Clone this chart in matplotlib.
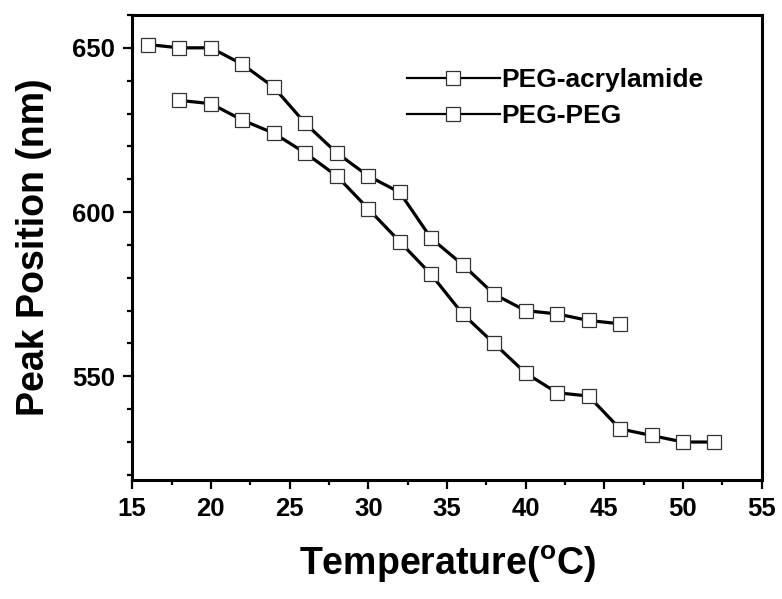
import matplotlib
matplotlib.use("Agg")
import matplotlib.pyplot as plt
from matplotlib.ticker import MultipleLocator

plt.rcParams['font.family'] = ['Liberation Sans', 'DejaVu Sans']
plt.rcParams['font.weight'] = 'bold'
plt.rcParams['mathtext.fontset'] = 'custom'
plt.rcParams['mathtext.rm'] = 'Liberation Sans'
plt.rcParams['mathtext.bf'] = 'Liberation Sans:bold'

# peak position vs temperature
temp_acryl = [16, 18, 20, 22, 24, 26, 28, 30, 32, 34, 36, 38, 40, 42, 44, 46]
peak_acryl = [651, 650, 650, 645, 638, 627, 618, 611, 606, 592, 584, 575, 570, 569, 567, 566]

temp_peg = [18, 20, 22, 24, 26, 28, 30, 32, 34, 36, 38, 40, 42, 44, 46, 48, 50, 52]
peak_peg = [634, 633, 628, 624, 618, 611, 601, 591, 581, 569, 560, 551, 545, 544, 534, 532, 530, 530]

labels = ["PEG-acrylamide", "PEG-PEG"]

fig = plt.figure(figsize=(7.82, 5.99), dpi=100)
ax = fig.add_axes([0.169, 0.199, 0.805, 0.776])

style = dict(color='black', lw=2.3, marker='s', markersize=9.5,
             markerfacecolor='white', markeredgecolor='#333333', markeredgewidth=0.9)
ax.plot(temp_acryl, peak_acryl, label=labels[0], **style)
ax.plot(temp_peg, peak_peg, label=labels[1], **style)

ax.set_xlim(15, 55)
ax.set_ylim(518.5, 660)
ax.xaxis.set_major_locator(MultipleLocator(5))
ax.xaxis.set_minor_locator(MultipleLocator(2.5))
ax.yaxis.set_major_locator(MultipleLocator(50))
ax.yaxis.set_minor_locator(MultipleLocator(10))

ax.tick_params(which='both', direction='out', top=False, right=False, width=1.6)
ax.tick_params(which='major', length=6.5, labelsize=18.5, pad=6)
ax.tick_params(which='minor', length=3.8)
for s in ax.spines.values():
    s.set_linewidth(2.2)

ax.set_xlabel("Temperature($^{\\mathrm{o}}$C)", fontsize=27, fontweight='bold', labelpad=16)
ax.set_ylabel("Peak Position (nm)", fontsize=27, fontweight='bold', labelpad=14)

leg = ax.legend(loc='upper left', bbox_to_anchor=(0.437, 0.885), frameon=False,
                fontsize=19, handlelength=3.5, handletextpad=0.05, labelspacing=0.45,
                borderpad=0, borderaxespad=0)
for ln in leg.get_lines():
    ln.set_linewidth(1.6)

fig.savefig("out.png", dpi=100)
